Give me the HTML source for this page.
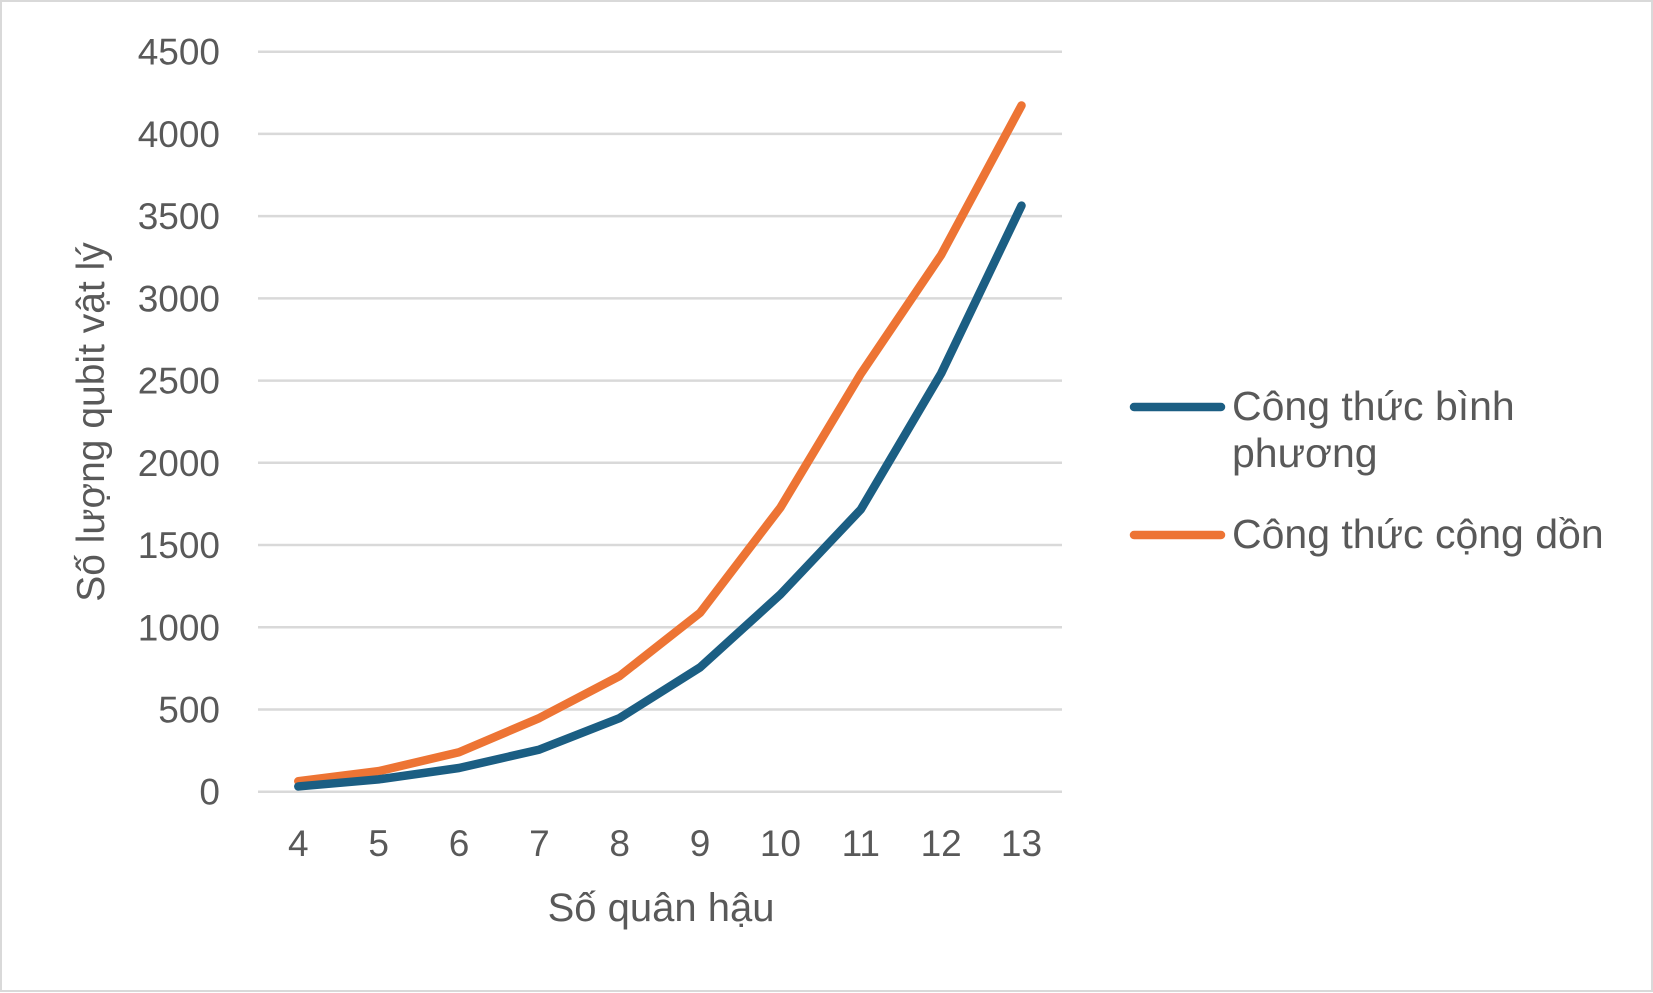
<!DOCTYPE html>
<html><head><meta charset="utf-8"><style>
html,body{margin:0;padding:0;background:#fff}
svg{display:block;font-family:"Liberation Sans",sans-serif}
</style></head><body>
<svg id="c" width="1653" height="993" viewBox="0 0 1653 993">
<rect x="1" y="1" width="1651" height="990" fill="#fff" stroke="#d9d9d9" stroke-width="2"/>
<g id="grid"></g><g id="lines"></g><g id="xt"></g><g id="yt"></g>
<text x="661" y="921" text-anchor="middle" font-size="40" fill="#595959">Số quân hậu</text>
<text transform="translate(104,422) rotate(-90)" text-anchor="middle" font-size="39" fill="#595959">Số lượng qubit vật lý</text>
<g>
<line x1="1134" y1="407" x2="1221" y2="407" stroke="#1b5e83" stroke-width="8.5" stroke-linecap="round"/>
<text x="1232" y="420" font-size="41" fill="#595959">Công thức bình</text>
<text x="1232" y="467" font-size="41" fill="#595959">phương</text>
<line x1="1134" y1="535" x2="1221" y2="535" stroke="#ed7434" stroke-width="8.5" stroke-linecap="round"/>
<text x="1232" y="548" font-size="41" fill="#595959">Công thức cộng dồn</text>
</g>
</svg>
<script>
const categories=[4,5,6,7,8,9,10,11,12,13];
const binhPhuong=[32,75,144,256,448,756,1200,1716,2544,3564];
const congDon=[64,125,240,448,704,1088,1728,2541,3264,4173];
const yTicks=[0,500,1000,1500,2000,2500,3000,3500,4000,4500];
const NS="http://www.w3.org/2000/svg";
const X0=298.3,X1=1021.5,Y0=791.7,Y1=51.7,YMAX=4500;
function xs(i){return X0+(X1-X0)*i/(categories.length-1);}
function ys(v){return Y0-(Y0-Y1)*v/YMAX;}
function mk(t,a,p){const e=document.createElementNS(NS,t);for(const k in a)e.setAttribute(k,a[k]);p.appendChild(e);return e;}
const grid=document.getElementById('grid'),yt=document.getElementById('yt'),xt=document.getElementById('xt'),lines=document.getElementById('lines');
yTicks.forEach(v=>{
 const l=mk('line',{x1:258,x2:1062,y1:ys(v),y2:ys(v),stroke:'#d9d9d9','stroke-width':2.5},grid);
 
 
 const t=mk('text',{x:220,y:ys(v)+13,'text-anchor':'end','font-size':37,fill:'#595959'},yt);
 t.textContent=v;
 
 
});
categories.forEach((c,i)=>{
 const t=mk('text',{x:xs(i),y:856,'text-anchor':'middle','font-size':37,fill:'#595959'},xt);
 t.textContent=c;
 
 
});
function series(vals,color,name){
 const p=mk('polyline',{points:vals.map((v,i)=>xs(i)+','+ys(v)).join(' '),fill:'none',stroke:color,'stroke-width':8.5,'stroke-linecap':'round','stroke-linejoin':'round'},lines);
 
 
}
series(congDon,'#ed7434','line-cong-don');
series(binhPhuong,'#1b5e83','line-binh-phuong');
</script>
</body></html>
